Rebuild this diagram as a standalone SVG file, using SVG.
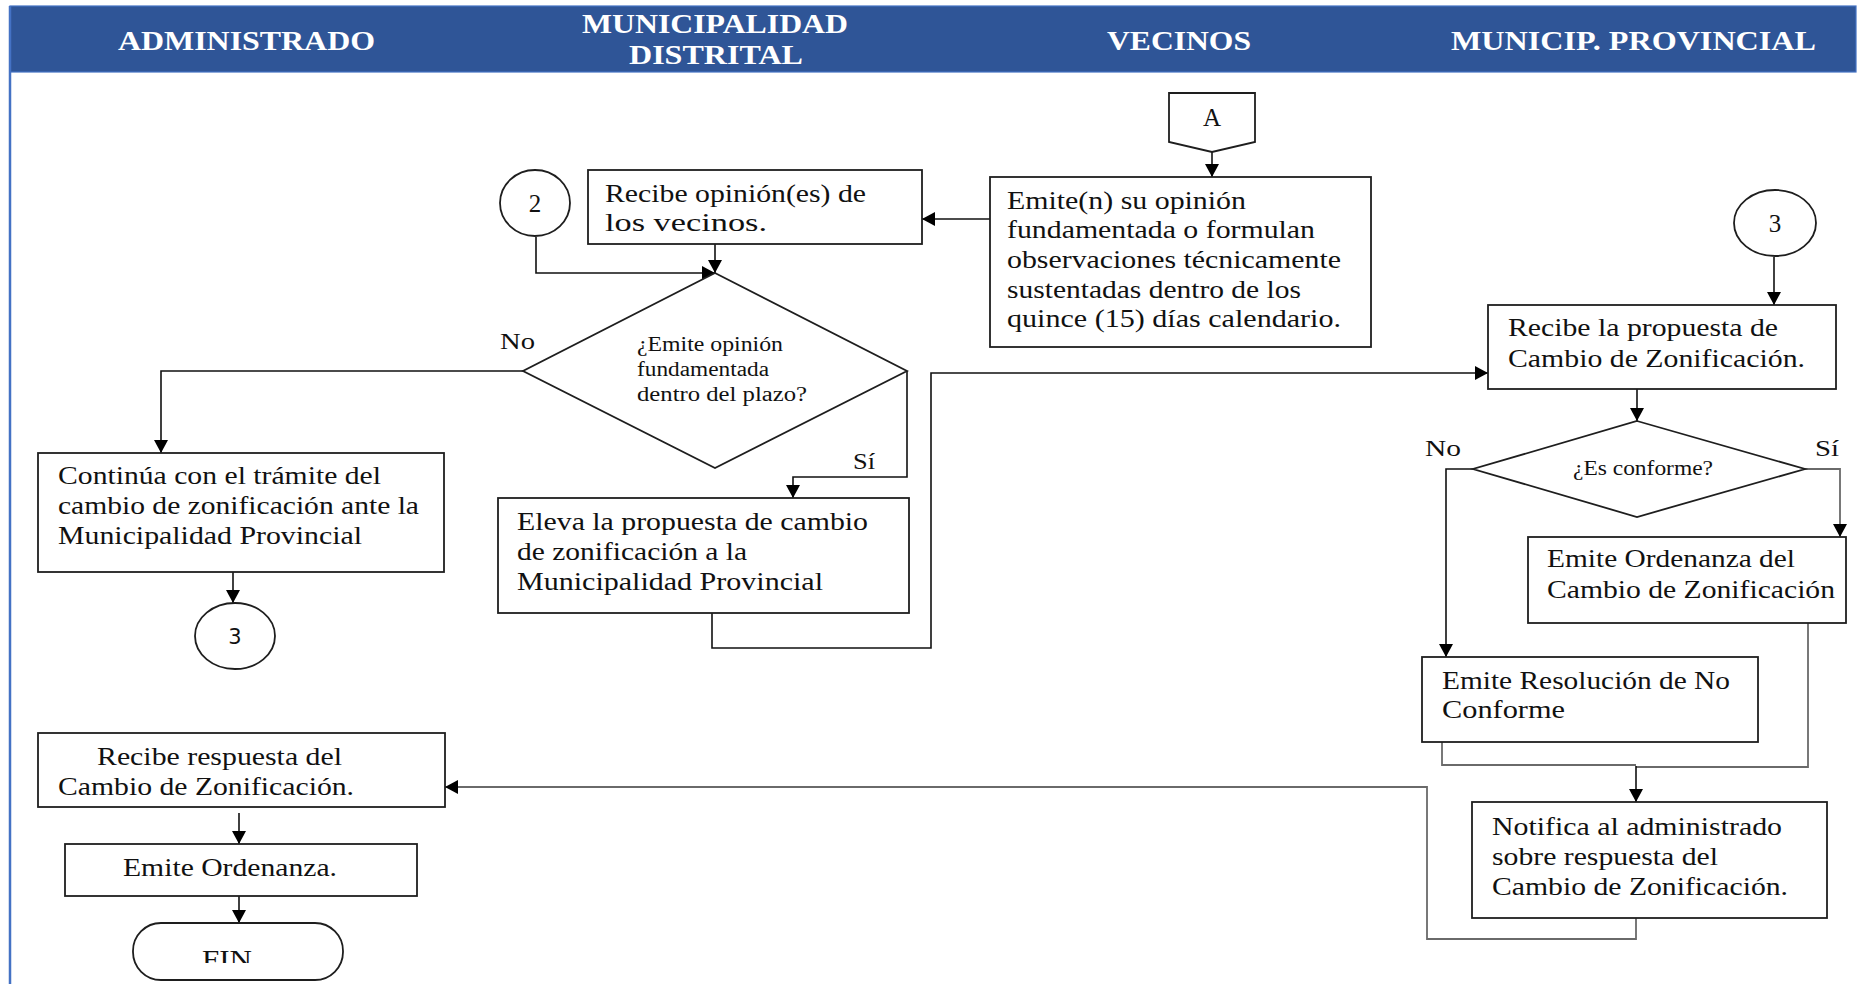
<svg xmlns="http://www.w3.org/2000/svg" width="1865" height="984" viewBox="0 0 1865 984">
<style>
.bx{fill:#fff;stroke:#1e1e1e;stroke-width:1.8}
.ln{fill:none;stroke:#111;stroke-width:1.6}
.lg{fill:none;stroke:#6a6a6a;stroke-width:1.8}
.t{font-family:"Liberation Serif","Times New Roman",serif;font-size:25px;fill:#111}
.ts{font-family:"Liberation Serif","Times New Roman",serif;font-size:20px;fill:#111}
.tl{font-family:"Liberation Serif","Times New Roman",serif;font-size:23px;fill:#111}
.h{font-family:"Liberation Serif","Times New Roman",serif;font-size:28px;font-weight:bold;fill:#fff}
</style>
<defs>
<marker id="ah" viewBox="0 0 13 14" refX="13" refY="7" markerWidth="13" markerHeight="14" orient="auto" markerUnits="userSpaceOnUse"><path d="M0,0 L13,7 L0,14 z" fill="#000"/></marker>
<clipPath id="finclip"><rect x="133" y="923" width="212" height="40"/></clipPath>
</defs>
<rect width="1865" height="984" fill="#fff"/>
<g id="header">
<rect x="10" y="6" width="1846" height="66" fill="#2F5597" stroke="#4472C4" stroke-width="1.2"/>
<line x1="10" y1="6" x2="10" y2="984" stroke="#4472C4" stroke-width="2.5"/>
<text class="h" x="118" y="50" textLength="257" lengthAdjust="spacingAndGlyphs">ADMINISTRADO</text>
<text class="h" x="582" y="33" textLength="266" lengthAdjust="spacingAndGlyphs">MUNICIPALIDAD</text>
<text class="h" x="629" y="64" textLength="174" lengthAdjust="spacingAndGlyphs">DISTRITAL</text>
<text class="h" x="1107" y="50" textLength="144" lengthAdjust="spacingAndGlyphs">VECINOS</text>
<text class="h" x="1451" y="50" textLength="365" lengthAdjust="spacingAndGlyphs">MUNICIP. PROVINCIAL</text>
</g>
<g id="connectors">
<path class="ln" d="M1212,152 V177" marker-end="url(#ah)"/>
<path class="ln" d="M990,219 H922" marker-end="url(#ah)"/>
<path class="ln" d="M715,244 V273" marker-end="url(#ah)"/>
<path class="ln" d="M536,237 V273 H715" marker-end="url(#ah)"/>
<path class="ln" d="M523,371 H161 V453" marker-end="url(#ah)"/>
<path class="ln" d="M233,572 V603" marker-end="url(#ah)"/>
<path class="ln" d="M907,371 V477 H793 V498" marker-end="url(#ah)"/>
<path class="ln" d="M712,613 V648 H931 V373 H1488" marker-end="url(#ah)"/>
<path class="ln" d="M1774,257 V305" marker-end="url(#ah)"/>
<path class="ln" d="M1637,389 V421" marker-end="url(#ah)"/>
<path class="ln" d="M1473,469 H1446 V657" marker-end="url(#ah)"/>
<path class="lg" d="M1805,469 H1840 V537" marker-end="url(#ah)"/>
<path class="lg" d="M1442,742 V765 H1636"/>
<path class="lg" d="M1808,623 V767 H1636"/>
<path class="ln" d="M1636,766 V802" marker-end="url(#ah)"/>
<path class="lg" d="M1636,918 V939 H1427 V787 H445" marker-end="url(#ah)"/>
<path class="ln" d="M239,813 V844" marker-end="url(#ah)"/>
<path class="ln" d="M239,896 V923" marker-end="url(#ah)"/>
</g>
<g id="n-A">
<path class="bx" d="M1169,93 H1255 V142 L1212,152 L1169,142 Z"/>
<text class="t" x="1212" y="126" text-anchor="middle" font-size="26">A</text>
</g>
<g id="n-emiten">
<rect class="bx" x="990" y="177" width="381" height="170"/>
<text class="t" x="1007" y="209" textLength="239" lengthAdjust="spacingAndGlyphs">Emite(n) su opinión</text>
<text class="t" x="1007" y="238" textLength="308" lengthAdjust="spacingAndGlyphs">fundamentada o formulan</text>
<text class="t" x="1007" y="268" textLength="334" lengthAdjust="spacingAndGlyphs">observaciones técnicamente</text>
<text class="t" x="1007" y="298" textLength="294" lengthAdjust="spacingAndGlyphs">sustentadas dentro de los</text>
<text class="t" x="1007" y="327" textLength="334" lengthAdjust="spacingAndGlyphs">quince (15) días calendario.</text>
</g>
<g id="n-recibe-opinion">
<rect class="bx" x="588" y="170" width="334" height="74"/>
<text class="t" x="605" y="202" textLength="261" lengthAdjust="spacingAndGlyphs">Recibe opinión(es) de</text>
<text class="t" x="605" y="231" textLength="162" lengthAdjust="spacingAndGlyphs">los vecinos.</text>
</g>
<g id="n-c2">
<ellipse class="bx" cx="535" cy="203" rx="35" ry="33"/>
<text class="t" x="535" y="212" text-anchor="middle" font-size="26">2</text>
</g>
<g id="n-d1">
<path class="bx" d="M715,273 L907,371 L715,468 L523,371 Z"/>
<text class="ts" x="637" y="351" textLength="146" lengthAdjust="spacingAndGlyphs">¿Emite opinión</text>
<text class="ts" x="637" y="376" textLength="132" lengthAdjust="spacingAndGlyphs">fundamentada</text>
<text class="ts" x="637" y="401" textLength="170" lengthAdjust="spacingAndGlyphs">dentro del plazo?</text>
<text class="tl" x="500" y="349" textLength="35" lengthAdjust="spacingAndGlyphs">No</text>
<text class="tl" x="853" y="469" textLength="22" lengthAdjust="spacingAndGlyphs">Sí</text>
</g>
<g id="n-continua">
<rect class="bx" x="38" y="453" width="406" height="119"/>
<text class="t" x="58" y="484" textLength="323" lengthAdjust="spacingAndGlyphs">Continúa con el trámite del</text>
<text class="t" x="58" y="514" textLength="361" lengthAdjust="spacingAndGlyphs">cambio de zonificación ante la</text>
<text class="t" x="58" y="544" textLength="304" lengthAdjust="spacingAndGlyphs">Municipalidad Provincial</text>
</g>
<g id="n-c3-left">
<ellipse class="bx" cx="235" cy="636" rx="40" ry="33"/>
<text x="235" y="644" text-anchor="middle" font-family="DejaVu Sans, sans-serif" font-size="21" fill="#111">3</text>
</g>
<g id="n-eleva">
<rect class="bx" x="498" y="498" width="411" height="115"/>
<text class="t" x="517" y="530" textLength="351" lengthAdjust="spacingAndGlyphs">Eleva la propuesta de cambio</text>
<text class="t" x="517" y="560" textLength="230" lengthAdjust="spacingAndGlyphs">de zonificación a la</text>
<text class="t" x="517" y="590" textLength="306" lengthAdjust="spacingAndGlyphs">Municipalidad Provincial</text>
</g>
<g id="n-c3-right">
<ellipse class="bx" cx="1775" cy="223" rx="41" ry="33"/>
<text class="t" x="1775" y="232" text-anchor="middle" font-size="26">3</text>
</g>
<g id="n-recibe-propuesta">
<rect class="bx" x="1488" y="305" width="348" height="84"/>
<text class="t" x="1508" y="336" textLength="270" lengthAdjust="spacingAndGlyphs">Recibe la propuesta de</text>
<text class="t" x="1508" y="367" textLength="297" lengthAdjust="spacingAndGlyphs">Cambio de Zonificación.</text>
</g>
<g id="n-d2">
<path class="bx" d="M1637,421 L1805,469 L1637,517 L1473,469 Z"/>
<text class="ts" x="1573" y="475" textLength="140" lengthAdjust="spacingAndGlyphs">¿Es conforme?</text>
<text class="tl" x="1425" y="456" textLength="36" lengthAdjust="spacingAndGlyphs">No</text>
<text class="tl" x="1815" y="456" textLength="24" lengthAdjust="spacingAndGlyphs">Sí</text>
</g>
<g id="n-ordenanza-del">
<rect class="bx" x="1528" y="537" width="318" height="86"/>
<text class="t" x="1547" y="567" textLength="248" lengthAdjust="spacingAndGlyphs">Emite Ordenanza del</text>
<text class="t" x="1547" y="598" textLength="288" lengthAdjust="spacingAndGlyphs">Cambio de Zonificación</text>
</g>
<g id="n-resolucion">
<rect class="bx" x="1422" y="657" width="336" height="85"/>
<text class="t" x="1442" y="689" textLength="288" lengthAdjust="spacingAndGlyphs">Emite Resolución de No</text>
<text class="t" x="1442" y="718" textLength="123" lengthAdjust="spacingAndGlyphs">Conforme</text>
</g>
<g id="n-notifica">
<rect class="bx" x="1472" y="802" width="355" height="116"/>
<text class="t" x="1492" y="835" textLength="290" lengthAdjust="spacingAndGlyphs">Notifica al administrado</text>
<text class="t" x="1492" y="865" textLength="226" lengthAdjust="spacingAndGlyphs">sobre respuesta del</text>
<text class="t" x="1492" y="895" textLength="296" lengthAdjust="spacingAndGlyphs">Cambio de Zonificación.</text>
</g>
<g id="n-recibe-respuesta">
<rect class="bx" x="38" y="733" width="407" height="74"/>
<text class="t" x="97" y="765" textLength="245" lengthAdjust="spacingAndGlyphs">Recibe respuesta del</text>
<text class="t" x="58" y="795" textLength="296" lengthAdjust="spacingAndGlyphs">Cambio de Zonificación.</text>
</g>
<g id="n-emite-ordenanza">
<rect class="bx" x="65" y="844" width="352" height="52"/>
<text class="t" x="123" y="876" textLength="214" lengthAdjust="spacingAndGlyphs">Emite Ordenanza.</text>
</g>
<g id="n-fin">
<rect class="bx" x="133" y="923" width="210" height="57" rx="28" ry="28"/>
<text class="t" x="202" y="968" font-size="25" textLength="50" lengthAdjust="spacingAndGlyphs" clip-path="url(#finclip)">FIN</text>
</g>
</svg>
